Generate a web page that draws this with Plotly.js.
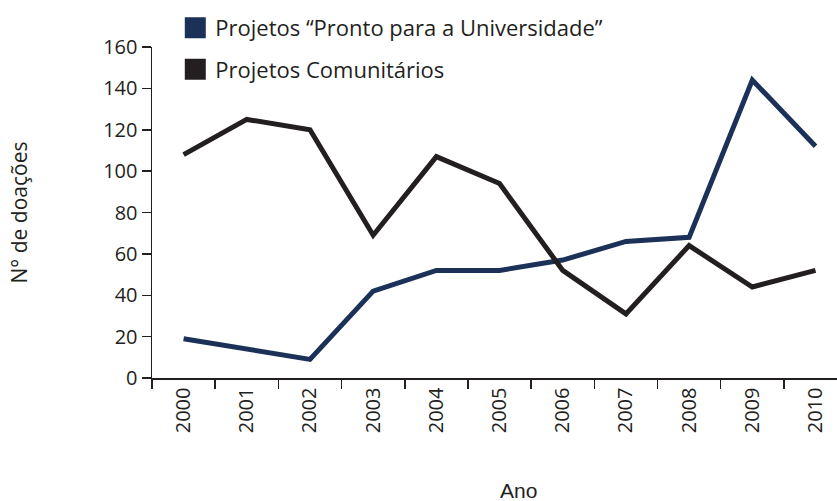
<!DOCTYPE html>
<html>
<head>
<meta charset="utf-8">
<script src="https://cdn.plot.ly/plotly-3.0.1.min.js"></script>
<style>html,body{margin:0;padding:0;background:#fff;}#chart{width:837px;height:501px;}</style>
</head>
<body>
<div id="chart"></div>
<script>
const years = ["2000","2001","2002","2003","2004","2005","2006","2007","2008","2009","2010"];
const prontoUniversidade = [19, 14, 9, 42, 52, 52, 57, 66, 68, 144, 112];
const comunitarios = [108, 125, 120, 69, 107, 94, 52, 31, 64, 44, 52];
const seriesNames = ["Projetos “Pronto para a Universidade”", "Projetos Comunitários"];
const yTicks = [0, 20, 40, 60, 80, 100, 120, 140, 160];

const BLUE = "#1c3158";
const DARK = "#231f20";
const FONT = "Open Sans, sans-serif";

const traces = [
  {x: years, y: prontoUniversidade, mode: "lines", name: seriesNames[0],
   line: {color: BLUE, width: 5}, showlegend: false},
  {x: years, y: comunitarios, mode: "lines", name: seriesNames[1],
   line: {color: DARK, width: 5}, showlegend: false},
  {x: [null], y: [null], mode: "markers", name: seriesNames[0], legendgroup: "a",
   marker: {symbol: "square", color: BLUE, size: 16, line: {color: BLUE, width: 5}}},
  {x: [null], y: [null], mode: "markers", name: seriesNames[1], legendgroup: "b",
   marker: {symbol: "square", color: DARK, size: 16, line: {color: DARK, width: 5}}}
];

const layout = {
  width: 837, height: 501,
  margin: {l: 152, r: 0, t: 47, b: 123},
  paper_bgcolor: "#fff", plot_bgcolor: "#fff",
  font: {family: FONT, size: 18, color: DARK},
  showlegend: true,
  legend: {x: 0.034, y: 1.121, xanchor: "left", yanchor: "top",
           font: {family: FONT, size: 22, color: DARK},
           tracegroupgap: 10, bgcolor: "rgba(0,0,0,0)"},
  xaxis: {type: "category", range: [-0.5, 10.34], tickson: "boundaries",
          ticks: "outside", ticklen: 9, tickwidth: 1.5, tickcolor: DARK,
          showline: true, linecolor: DARK, linewidth: 1.5, showgrid: false,
          zeroline: false, tickangle: -90, tickfont: {size: 20, color: DARK}},
  yaxis: {range: [0, 160], tickvals: yTicks, ticks: "outside", ticklen: 9,
          tickwidth: 1.5, tickcolor: DARK, showline: true, linecolor: DARK,
          linewidth: 1.5, showgrid: false, zeroline: false,
          tickfont: {size: 20, color: DARK},
          title: {text: "N° de doações", font: {size: 21, color: DARK}, standoff: 70}},
  annotations: [
    {text: "Ano", xref: "paper", yref: "paper", x: (518 - 152) / 685, y: -0.34,
     xanchor: "center", yanchor: "middle", showarrow: false,
     font: {family: "Liberation Sans, Arial, sans-serif", size: 21, color: DARK}}
  ]
};

Plotly.newPlot("chart", traces, layout, {displayModeBar: false, staticPlot: true});
</script>
</body>
</html>
